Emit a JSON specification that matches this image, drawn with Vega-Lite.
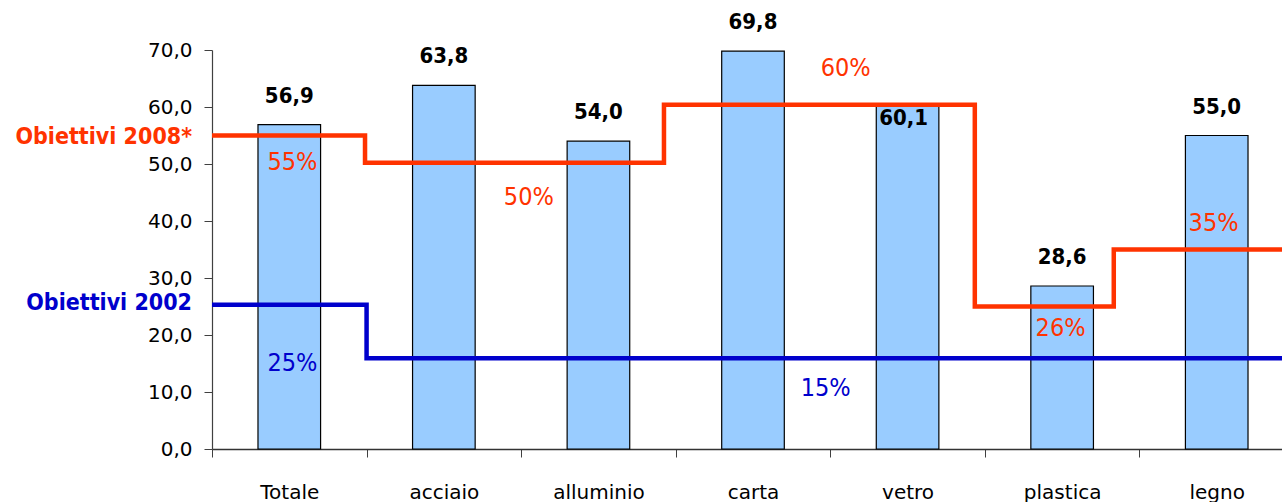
{
  "$schema": "https://vega.github.io/schema/vega-lite/v6.json",
  "width": 1070,
  "height": 399,
  "autosize": {"type": "none"},
  "padding": {"left": 212, "top": 50, "right": 0, "bottom": 53},
  "background": "white",
  "config": {"view": {"stroke": null}, "font": "DejaVu Sans"},
  "datasets": {
    "bars": [
      {"cat": "Totale", "value": 56.9, "label": "56,9"},
      {"cat": "acciaio", "value": 63.8, "label": "63,8"},
      {"cat": "alluminio", "value": 54.0, "label": "54,0"},
      {"cat": "carta", "value": 69.8, "label": "69,8"},
      {"cat": "vetro", "value": 60.1, "label": "60,1"},
      {"cat": "plastica", "value": 28.6, "label": "28,6"},
      {"cat": "legno", "value": 55.0, "label": "55,0"}
    ],
    "steps": [
      {"series": "2008", "x": 0, "value": 55},
      {"series": "2008", "x": 0.99, "value": 50.2},
      {"series": "2008", "x": 2.924, "value": 60.4},
      {"series": "2008", "x": 4.935, "value": 25},
      {"series": "2008", "x": 5.834, "value": 35},
      {"series": "2008", "x": 7, "value": 35},
      {"series": "2002", "x": 0, "value": 25.3},
      {"series": "2002", "x": 1.0, "value": 15.9},
      {"series": "2002", "x": 7, "value": 15.9}
    ],
    "pct": [
      {"series": "2008", "x": 0.52, "value": 50.4, "label": "55%"},
      {"series": "2008", "x": 2.05, "value": 44.2, "label": "50%"},
      {"series": "2008", "x": 4.10, "value": 66.8, "label": "60%"},
      {"series": "2008", "x": 5.49, "value": 21.2, "label": "26%"},
      {"series": "2008", "x": 6.48, "value": 39.6, "label": "35%"},
      {"series": "2002", "x": 0.52, "value": 15.1, "label": "25%"},
      {"series": "2002", "x": 3.97, "value": 10.7, "label": "15%"}
    ],
    "names": [
      {"series": "2008", "x": 0, "value": 54.7, "label": "Obiettivi 2008*"},
      {"series": "2002", "x": 0, "value": 25.6, "label": "Obiettivi 2002"}
    ]
  },
  "layer": [
    {
      "data": {"name": "bars"},
      "encoding": {
        "x": {
          "field": "cat",
          "type": "nominal",
          "sort": null,
          "scale": {"range": [0, 1082], "paddingInner": 0, "paddingOuter": 0},
          "axis": {
            "title": null,
            "labelAngle": 0,
            "tickBand": "extent",
            "tickSize": 8,
            "labelPadding": 25,
            "labelFontSize": 20,
            "labelFont": "DejaVu Sans",
            "labelColor": "#000000",
            "domainColor": "#333333",
            "tickColor": "#404040",
            "domainWidth": 1.5,
            "grid": false
          }
        },
        "y": {
          "field": "value",
          "type": "quantitative",
          "scale": {"domain": [0, 70], "nice": false, "zero": true},
          "axis": {
            "title": null,
            "values": [0, 10, 20, 30, 40, 50, 60, 70],
            "labelExpr": "replace(format(datum.value, '.1f'), '.', ',')",
            "tickSize": 8,
            "labelPadding": 12,
            "labelFontSize": 20,
            "labelFont": "DejaVu Sans",
            "labelColor": "#000000",
            "domainColor": "#404040",
            "tickColor": "#404040",
            "domainWidth": 1.2,
            "grid": false
          }
        }
      },
      "layer": [
        {"mark": {"type": "bar", "fill": "#99CCFF", "stroke": "#000000", "strokeWidth": 1.2, "width": {"band": 0.405}}},
        {
          "transform": [{"filter": "datum.cat !== 'vetro'"}],
          "mark": {"type": "text", "font": "DejaVu Sans Condensed", "fontWeight": "bold", "fontSize": 22, "dy": -29, "color": "#000000"},
          "encoding": {"text": {"field": "label"}}
        },
        {
          "transform": [{"filter": "datum.cat === 'vetro'"}],
          "mark": {"type": "text", "font": "DejaVu Sans Condensed", "fontWeight": "bold", "fontSize": 22, "dy": 12, "dx": -4, "color": "#000000"},
          "encoding": {"text": {"field": "label"}}
        }
      ]
    },
    {
      "encoding": {
        "x": {
          "field": "x",
          "type": "quantitative",
          "scale": {"domain": [0, 7], "range": [0, 1082], "nice": false, "zero": false},
          "axis": null
        },
        "y": {"field": "value", "type": "quantitative"}
      },
      "layer": [
        {
          "data": {"name": "steps"},
          "mark": {"type": "line", "interpolate": "step-after", "strokeWidth": 4.5},
          "encoding": {
            "color": {"field": "series", "type": "nominal", "scale": {"domain": ["2008", "2002"], "range": ["#FF3300", "#0000CC"]}, "legend": null},
            "detail": {"field": "series"}
          }
        },
        {
          "data": {"name": "pct"},
          "mark": {"type": "text", "font": "DejaVu Sans Condensed", "fontSize": 25},
          "encoding": {
            "text": {"field": "label"},
            "color": {"field": "series", "type": "nominal", "scale": {"domain": ["2008", "2002"], "range": ["#FF3300", "#3333EE"]}, "legend": null}
          }
        },
        {
          "data": {"name": "names"},
          "mark": {"type": "text", "font": "DejaVu Sans Condensed", "fontWeight": "bold", "fontSize": 23, "align": "right", "dx": -20},
          "encoding": {
            "text": {"field": "label"},
            "color": {"field": "series", "type": "nominal", "scale": {"domain": ["2008", "2002"], "range": ["#FF3300", "#0000CC"]}, "legend": null}
          }
        }
      ]
    }
  ],
  "resolve": {"scale": {"x": "independent", "color": "independent"}}
}
